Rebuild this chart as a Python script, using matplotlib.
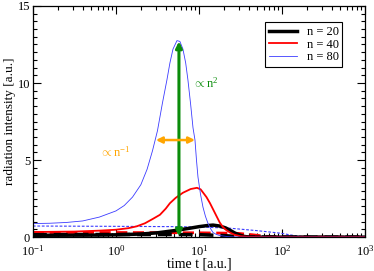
import matplotlib
matplotlib.use("Agg")
import matplotlib.pyplot as plt
import numpy as np
from matplotlib.ticker import LogLocator, MultipleLocator, NullFormatter

plt.rcParams['font.family'] = ['Liberation Serif', 'DejaVu Serif']
plt.rcParams['mathtext.fontset'] = 'custom'
plt.rcParams['mathtext.rm'] = 'Liberation Serif'
plt.rcParams['mathtext.it'] = 'Liberation Serif:italic'

# time given as log10(t)
# n = 20 (solid, thick black)
logt20 = [-1.0, -0.3, 0.0, 0.3, 0.5, 0.7, 0.892, 1.0, 1.1, 1.169, 1.25, 1.32, 1.373, 1.43, 1.494, 1.54, 1.6, 3.0]
i20 = [0.12, 0.13, 0.15, 0.2, 0.28, 0.42, 0.58, 0.68, 0.75, 0.78, 0.72, 0.6, 0.45, 0.27, 0.13, 0.05, 0.0, 0.0]
# n = 40 (solid red)
logt40 = [-1.0, -0.5, -0.2, 0.0, 0.15, 0.25, 0.35, 0.45, 0.53, 0.6, 0.65, 0.72, 0.807, 0.9, 0.976, 1.02, 1.048,
          1.09, 1.133, 1.175, 1.217, 1.25, 1.289, 1.33, 1.373, 1.43, 1.5, 1.6, 1.8, 3.0]
i40 = [0.33, 0.36, 0.42, 0.48, 0.58, 0.7, 0.9, 1.2, 1.45, 1.85, 2.2, 2.55, 2.88, 3.12, 3.2, 3.1, 2.9,
       2.6, 2.2, 1.75, 1.3, 0.95, 0.65, 0.45, 0.3, 0.15, 0.06, 0.02, 0.0, 0.0]
# n = 80 (solid thin blue)
logt80 = [-1.0, -0.8, -0.6, -0.4, -0.2, 0.0, 0.1, 0.2, 0.3, 0.375, 0.44, 0.5, 0.56, 0.614, 0.65, 0.687,
          0.735, 0.77, 0.807, 0.84, 0.867, 0.9, 0.928, 0.952, 0.97, 0.988, 1.018, 1.048, 1.078, 1.108, 1.14,
          1.169, 1.21, 1.253, 1.35, 1.5, 3.0]
i80 = [0.88, 0.9, 0.95, 1.05, 1.3, 1.7, 2.05, 2.6, 3.4, 4.4, 5.6, 6.9, 8.7, 10.2, 11.3, 12.2,
       12.75, 12.7, 12.2, 11.3, 10.2, 8.6, 7.1, 6.3, 5.0, 3.9, 2.8, 1.95, 1.35, 0.9, 0.55,
       0.3, 0.17, 0.1, 0.03, 0.0, 0.0]

# dashed companions
logt20d = [-1.0, 0.0, 0.7, 1.0, 1.3, 1.48, 1.6, 3.0]
i20d = [0.17, 0.17, 0.17, 0.16, 0.1, 0.03, 0.0, 0.0]
logt40d = [-1.0, 0.0, 1.0, 1.3, 1.48, 1.65, 1.78, 1.9, 2.0, 3.0]
i40d = [0.3, 0.3, 0.28, 0.26, 0.24, 0.15, 0.07, 0.02, 0.0, 0.0]
logt80d = [-1.0, 0.0, 0.7, 1.0, 1.37, 1.7, 1.976, 2.15, 2.3, 3.0]
i80d = [0.72, 0.7, 0.68, 0.66, 0.58, 0.42, 0.26, 0.1, 0.0, 0.0]

legend_labels = ['n = 20', 'n = 40', 'n = 80']

peak_t = 5.74
peak_val = 12.7
width_t = [3.03, 8.95]
width_val = 6.3

fig = plt.figure(figsize=(3.74, 2.71), dpi=100)
ax = fig.add_axes([0.088, 0.125, 0.888, 0.853])

def T(a):
    return 10.0 ** np.asarray(a)

ax.plot(T(logt80d), i80d, color='#3b3bff', lw=0.8, ls=(0, (2.5, 1.5)))
ax.plot(T(logt40d), i40d, color='#ff0000', lw=2.0, ls=(0, (4, 2)))
ax.plot(T(logt20d), i20d, color='black', lw=2.5, ls=(0, (4, 2)))
l1, = ax.plot(T(logt20), i20, color='black', lw=2.5, label=legend_labels[0])
l2, = ax.plot(T(logt40), i40, color='#ff0000', lw=1.3, label=legend_labels[1])
l3, = ax.plot(T(logt80), i80, color='#3b3bff', lw=0.6, label=legend_labels[2])

ax.annotate('', xy=(peak_t, peak_val), xytext=(peak_t, 0.05),
            arrowprops=dict(arrowstyle='<|-|>', color='#0a8c0a', lw=2.2, mutation_scale=9,
                            shrinkA=0, shrinkB=0))
ax.annotate('', xy=(width_t[1], width_val), xytext=(width_t[0], width_val),
            arrowprops=dict(arrowstyle='<|-|>', color='#ffa500', lw=1.8, mutation_scale=9,
                            shrinkA=0, shrinkB=0))
ax.text(8.5, 9.7, r'$\propto$n$^{2}$', color='#0a8c0a', fontsize=9)
ax.text(0.64, 5.25, r'$\propto$n$^{-1}$', color='#ffa500', fontsize=9)

ax.set_xscale('log')
ax.set_xlim(0.1, 1000)
ax.set_ylim(0, 15)
ax.yaxis.set_major_locator(MultipleLocator(5))
ax.yaxis.set_minor_locator(MultipleLocator(0.5))
ax.xaxis.set_major_locator(LogLocator(base=10, numticks=10))
ax.xaxis.set_minor_locator(LogLocator(base=10, subs=range(2, 10), numticks=20))
ax.xaxis.set_minor_formatter(NullFormatter())
ax.tick_params(which='both', direction='in', top=True, right=True, labelsize=9, width=0.8)
ax.tick_params(axis='x', which='major', pad=5)
ax.tick_params(axis='y', which='major', pad=2)
ax.tick_params(which='major', length=6)
ax.tick_params(which='minor', length=3)
for s in ax.spines.values():
    s.set_linewidth(0.9)

ax.set_xlabel('time t [a.u.]', fontsize=10, labelpad=-1)
ax.set_ylabel('radiation intensity [a.u.]', fontsize=9.5, labelpad=1)

leg = ax.legend(handles=[l1, l2, l3], loc='upper left', bbox_to_anchor=(0.70, 0.93),
                fontsize=9, frameon=True, fancybox=False, framealpha=1, edgecolor='black',
                handlelength=2.2, borderpad=0.3, labelspacing=0.05, handletextpad=0.8,
                borderaxespad=0)
leg.get_frame().set_linewidth(0.8)

fig.savefig('out.png', dpi=100)
